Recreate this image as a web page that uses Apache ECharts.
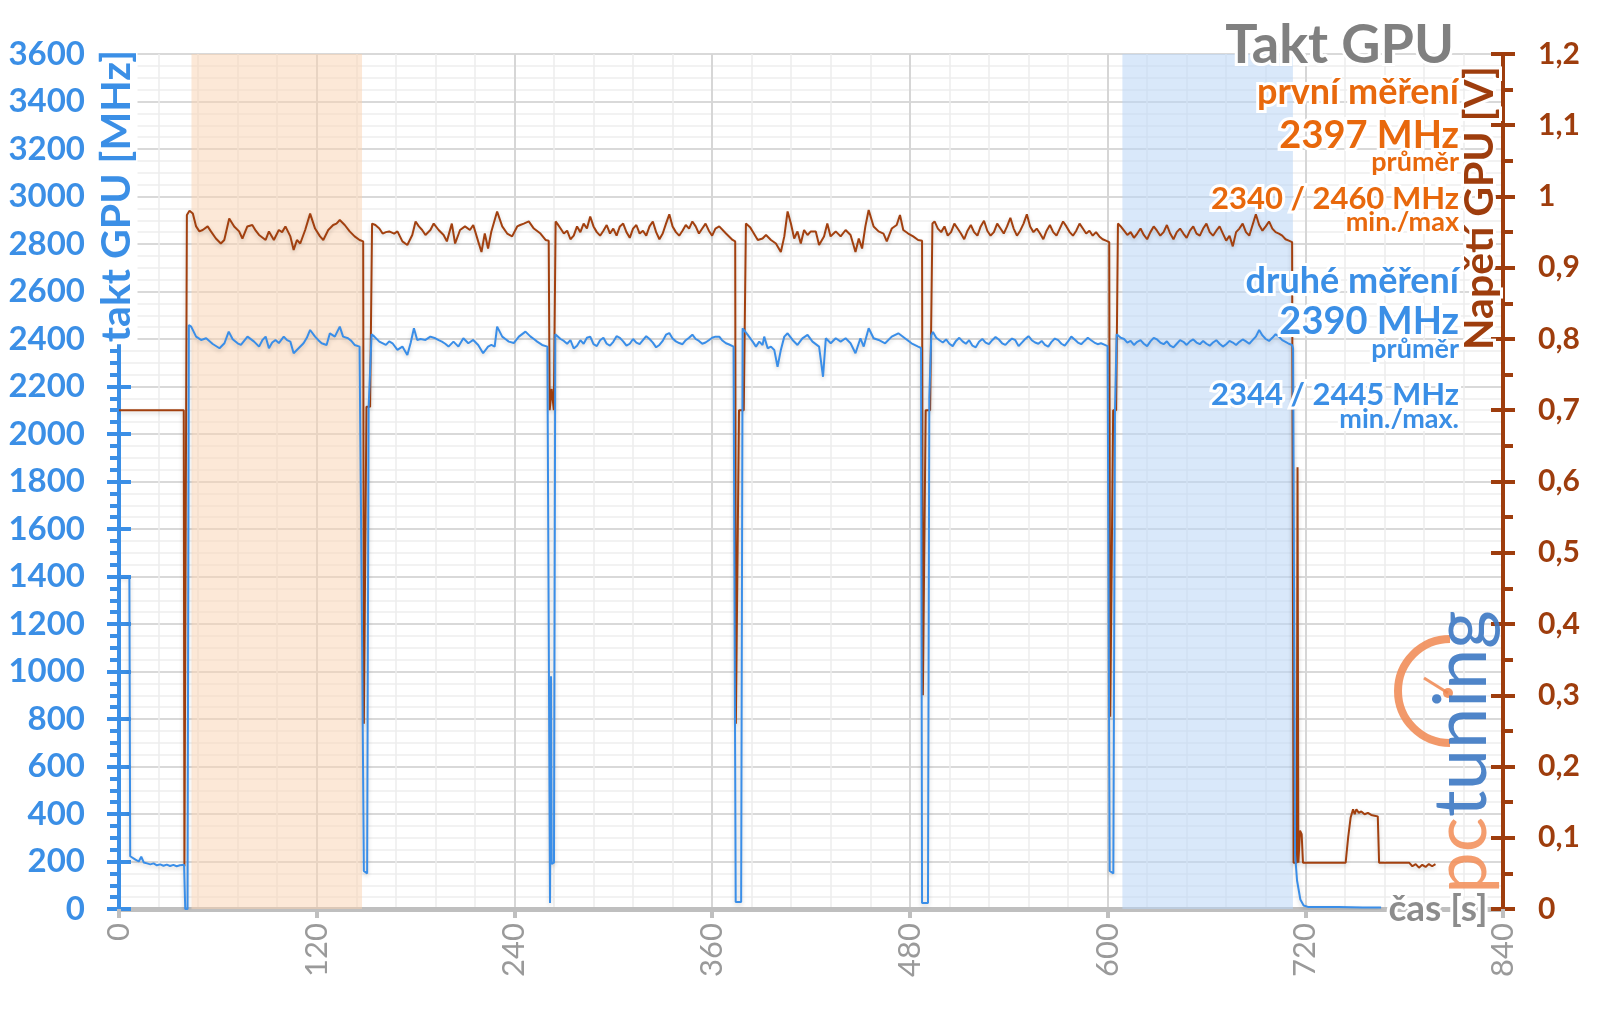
<!DOCTYPE html>
<html><head><meta charset="utf-8">
<script src="https://cdn.jsdelivr.net/npm/echarts@6/dist/echarts.min.js"></script>
<style>html,body{margin:0;padding:0;background:#fff}#c{width:1600px;height:1009px}</style>
</head><body><div id="c"></div>
<script>
// ---- tick labels ----
const xTicks = [0,120,240,360,480,600,720,840];
const leftMax = 3600, rightMax = 1.2;
// bands (s)
const bandOrange = [44, 147.5];
const bandBlue = [609, 712.5];

// ---- clock (MHz), [time s, value] ----
const clockStart = [[0,1400],[6.3,1400],[6.8,222],[8,218],[10,208],[12,200],[13.5,220],[15,196],[17,192],[19,188],[21,192],[23,184],[25,188],[27,182],[29,187],[31,181],[33,186],[35,180],[37,184],[39.5,186],[40.2,0],[41.6,0]];
const clockRun1 = [[42.4,2459],[43.8,2452],[46.8,2410],[49.8,2396],[52.9,2403],[56.9,2379],[61,2361],[64,2382],[66.6,2431],[69,2399],[72,2382],[74,2375],[78,2410],[82,2389],[85,2368],[87,2395],[89,2410],[91,2361],[93,2385],[95,2396],[97,2383],[100,2410],[102,2395],[104,2389],[106,2340],[109,2361],[112,2382],[114,2405],[116,2438],[119,2410],[121,2395],[123,2382],[126,2375],[128,2424],[131,2410],[134,2452],[136,2410],[139,2403],[141,2392],[143,2375],[146,2368]];
const clockGap1 = [[147,2360],[147.5,1170],[148,1165],[148.6,160],[150.6,150],[151.5,2110],[152.2,2115],[153.3,2420]];
const clockRun2 = [[155,2410],[158,2389],[162,2375],[164,2390],[166,2382],[169,2354],[172,2368],[175,2333],[177,2383],[179,2445],[181,2396],[183,2400],[186,2396],[189,2410],[192,2403],[194,2395],[196,2389],[198,2380],[200,2368],[203,2389],[206,2368],[209,2403],[212,2382],[215,2396],[218,2375],[221,2340],[224,2368],[226,2375],[228,2368],[229.5,2452],[232.6,2410],[234.5,2400],[236.6,2389],[239.6,2383],[242.7,2410],[246.7,2431],[249.8,2410],[251.8,2400],[253.8,2389],[256.8,2375],[260,2368]];
const clockGap2 = [[261.2,2362],[261.6,25],[262.2,980],[262.6,190],[264,195],[264.8,2420]];
const clockRun3 = [[266,2425],[268,2400],[270,2392],[272,2380],[274,2395],[276,2360],[278,2372],[280,2395],[282,2380],[284,2405],[286,2410],[288,2378],[290,2370],[292,2395],[294,2405],[296,2380],[298,2372],[300,2388],[302,2412],[304,2405],[306,2390],[308,2372],[310,2380],[312,2400],[314,2385],[316,2378],[318,2395],[320,2412],[322,2400],[324,2385],[326,2365],[328,2375],[330,2392],[332,2418],[334,2425],[336,2402],[338,2390],[340,2383],[342,2378],[344,2395],[346,2405],[348,2418],[350,2400],[352,2392],[354,2380],[356,2385],[358,2395],[360,2405],[362,2410],[364.3,2410],[366,2395],[368.4,2382],[370,2378],[373,2368]];
const clockGap3 = [[373.8,2360],[374.3,30],[377.6,30],[378.5,2445]];
const clockRun4 = [[381.6,2417],[384.6,2389],[386.6,2368],[388.6,2389],[390.6,2375],[391.6,2410],[393.7,2361],[395.7,2368],[397.7,2354],[399.7,2283],[401.7,2354],[403.8,2410],[405.8,2424],[408.8,2396],[411.8,2375],[414.8,2403],[417.9,2417],[420.9,2389],[424.9,2368],[427.3,2241],[429,2403],[432,2382],[435,2403],[438,2389],[441,2403],[444,2382],[447,2340],[450,2403],[452,2368],[455,2445],[458,2403],[461,2396],[465,2382],[469,2410],[473,2424],[477,2403],[481,2382],[485,2368]];
const clockGap4 = [[486.8,2362],[487.4,25],[491,25],[491.8,2150],[493,2415]];
const clockRun5 = [[494,2430],[496,2405],[498,2395],[500,2385],[502,2398],[504,2380],[506,2370],[508,2392],[510,2405],[512,2390],[514,2380],[516,2395],[518,2372],[520,2365],[522,2388],[524,2400],[526,2385],[528,2378],[530,2395],[532,2408],[534,2398],[536,2382],[538,2375],[540,2390],[542,2402],[544,2395],[546,2370],[548,2385],[550,2400],[552,2412],[554,2395],[556,2385],[558,2380],[560,2392],[562,2375],[564,2368],[566,2388],[568,2402],[570,2395],[572,2380],[574,2372],[576,2390],[578,2410],[580,2398],[582,2385],[584,2378],[586,2392],[588,2405],[590,2395],[592,2385],[594,2378],[596,2382],[598,2376],[600,2370]];
const clockGap5 = [[600.8,2362],[601.3,160],[603.5,150],[604.5,2100],[605.5,2420]];
const clockRun6 = [[606.5,2425],[608,2405],[610,2400],[612,2385],[614,2392],[616,2375],[618,2388],[620,2395],[622,2380],[624,2370],[626,2390],[628,2405],[630,2398],[632,2385],[634,2378],[636,2390],[638,2372],[640,2365],[642,2380],[644,2395],[646,2388],[648,2375],[650,2390],[652,2398],[654,2385],[656,2378],[658,2392],[660,2380],[662,2372],[664,2385],[666,2395],[668,2380],[670,2368],[672,2378],[674,2392],[676,2385],[678,2375],[680,2388],[682,2398],[684,2390],[686,2380],[688,2395],[690,2410],[692,2438],[694,2415],[696,2400],[698,2392],[700,2405],[702,2420],[704,2410],[706,2395],[708,2388],[710,2380],[712,2375]];
const clockEnd = [[712.6,2360],[713.2,1300],[713.8,230],[715,120],[717,40],[719,15],[722,8],[740,8],[755,6],[766,6]];

// ---- voltage (V), [time s, value] ----
const voltStart = [[0,0.70],[39.3,0.70],[39.7,0.06],[40.6,0.06],[41.2,0.974],[42.8,0.98]];
const voltRun1 = [[44.8,0.976],[46.8,0.958],[48.8,0.951],[50.8,0.953],[53.8,0.958],[55.8,0.951],[58.8,0.941],[61.8,0.934],[63.9,0.939],[66.9,0.969],[69.9,0.958],[72.9,0.951],[74.9,0.941],[77.9,0.958],[80.9,0.960],[83,0.952],[85,0.946],[89,0.939],[91,0.951],[94,0.939],[97,0.953],[99,0.950],[101,0.958],[104,0.944],[106,0.925],[108,0.939],[110,0.934],[113,0.953],[116,0.976],[119,0.955],[122,0.944],[124,0.939],[127,0.953],[130,0.960],[132,0.962],[134,0.967],[137,0.960],[140,0.951],[143,0.944],[146,0.939],[148.2,0.937]];
const voltGap1 = [[148.6,0.26],[149.5,0.26],[150.2,0.705],[152.4,0.705],[153.6,0.962]];
const voltRun2 = [[155.6,0.960],[158,0.955],[160,0.948],[162,0.950],[164,0.951],[167,0.948],[169,0.951],[172,0.937],[175,0.932],[178,0.946],[180,0.965],[182,0.958],[184,0.953],[186,0.946],[189,0.953],[191,0.962],[194,0.953],[197,0.946],[199,0.937],[202,0.962],[204,0.934],[207,0.953],[210,0.958],[213,0.953],[215,0.960],[218,0.937],[220,0.922],[222,0.948],[224,0.927],[226,0.951],[229.5,0.979],[232.6,0.958],[235.6,0.948],[238.6,0.944],[241.7,0.958],[243.5,0.960],[245.7,0.962],[248.7,0.965],[251.8,0.955],[255.8,0.948],[258.9,0.939],[260.8,0.938]];
const voltGap2 = [[261.4,0.70],[262.3,0.70],[262.6,0.73],[263.6,0.73],[263.9,0.70],[264.4,0.70],[265,0.965]];
const voltRun3 = [[266,0.962],[268,0.955],[270,0.948],[272,0.952],[274,0.940],[276,0.945],[278,0.958],[280,0.950],[282,0.962],[284,0.955],[286,0.972],[288,0.958],[290,0.950],[292,0.945],[294,0.952],[296,0.960],[298,0.948],[300,0.955],[302,0.945],[304,0.958],[306,0.962],[308,0.950],[310,0.942],[312,0.955],[314,0.960],[316,0.948],[318,0.952],[320,0.945],[322,0.958],[324,0.965],[326,0.950],[328,0.940],[330,0.948],[332,0.962],[334,0.975],[336,0.958],[338,0.950],[340,0.945],[342,0.952],[344,0.960],[346,0.955],[348,0.965],[350,0.958],[352,0.948],[354,0.955],[356,0.962],[358,0.952],[360,0.945],[362,0.955],[364.3,0.958],[368.4,0.948],[372.4,0.939],[374,0.937]];
const voltGap3 = [[374.4,0.26],[375.6,0.26],[376.3,0.70],[379.2,0.70],[380.5,0.962]];
const voltRun4 = [[383,0.957],[384.6,0.951],[387.7,0.939],[390.6,0.941],[392.7,0.946],[395.7,0.939],[398.7,0.934],[401.7,0.922],[403.8,0.944],[405.8,0.979],[407.8,0.962],[409.8,0.941],[411.8,0.951],[413.8,0.934],[415.8,0.953],[417.9,0.946],[419.9,0.951],[422.9,0.951],[424.9,0.932],[427.9,0.944],[429.9,0.962],[431.9,0.944],[435,0.951],[438,0.944],[441,0.953],[444,0.946],[447,0.922],[449,0.941],[451,0.927],[453,0.958],[455,0.981],[458,0.958],[461,0.951],[464,0.948],[466,0.937],[469,0.955],[472,0.960],[474,0.974],[476,0.953],[479,0.948],[482,0.944],[485,0.939],[487.4,0.938]];
const voltGap4 = [[487.9,0.30],[489,0.30],[489.6,0.70],[492.3,0.70],[493.7,0.962]];
const voltRun5 = [[495,0.965],[497,0.955],[499,0.950],[501,0.958],[503,0.945],[505,0.950],[507,0.962],[509,0.955],[511,0.948],[513,0.940],[515,0.952],[517,0.960],[519,0.950],[521,0.945],[523,0.958],[525,0.966],[527,0.952],[529,0.945],[531,0.950],[533,0.962],[535,0.955],[537,0.948],[539,0.958],[541,0.970],[543,0.955],[545,0.945],[547,0.952],[549,0.962],[551,0.975],[553,0.958],[555,0.950],[557,0.955],[559,0.948],[561,0.940],[563,0.952],[565,0.960],[567,0.950],[569,0.945],[571,0.955],[573,0.965],[575,0.958],[577,0.950],[579,0.945],[581,0.952],[583,0.962],[585,0.955],[587,0.948],[589,0.952],[591,0.945],[593,0.950],[595,0.944],[597,0.940],[599,0.938],[601,0.936]];
const voltGap5 = [[601.6,0.27],[602.8,0.27],[603.4,0.70],[605.2,0.70],[606.3,0.962]];
const voltRun6 = [[608,0.958],[610,0.952],[612,0.946],[614,0.950],[616,0.942],[618,0.948],[620,0.955],[622,0.946],[624,0.940],[626,0.950],[628,0.958],[630,0.952],[632,0.945],[634,0.950],[636,0.960],[638,0.948],[640,0.940],[642,0.950],[644,0.955],[646,0.948],[648,0.942],[650,0.952],[652,0.958],[654,0.948],[656,0.945],[658,0.955],[660,0.962],[662,0.950],[664,0.945],[666,0.952],[668,0.958],[670,0.948],[672,0.938],[674,0.945],[676,0.930],[678,0.950],[680,0.955],[682,0.962],[684,0.950],[686,0.945],[688,0.960],[690,0.975],[692,0.960],[694,0.952],[696,0.958],[698,0.965],[700,0.955],[702,0.950],[704,0.948],[706,0.945],[708,0.940],[710,0.938],[712,0.936]];
const voltEnd = [[712.4,0.935],[712.9,0.065],[714.8,0.065],[715.3,0.62],[715.8,0.065],[716.8,0.11],[717.8,0.105],[718.6,0.065],[744.5,0.065],[746,0.10],[747.5,0.128],[749,0.14],[750,0.133],[751,0.14],[752.5,0.135],[754,0.137],[756,0.133],[758,0.135],[760,0.132],[762,0.131],[764,0.13],[764.8,0.065],[783,0.065],[785,0.06],[787,0.063],[789,0.058],[791,0.062],[793,0.059],[795,0.063],[797,0.06],[799,0.063]];

const clockData = [].concat(clockStart, clockRun1, clockGap1, clockRun2, clockGap2, clockRun3, clockGap3, clockRun4, clockGap4, clockRun5, clockGap5, clockRun6, clockEnd);
const voltData = [].concat(voltStart, voltRun1, voltGap1, voltRun2, voltGap2, voltRun3, voltGap3, voltRun4, voltGap4, voltRun5, voltGap5, voltRun6, voltEnd);

const BLUE = '#3b8fe6', BROWN = '#9e3d0d', ORANGE = '#e8680c', GRAY = '#808080';
const FONT = 'Lato';

const chart = echarts.init(document.getElementById('c'), null, {renderer:'canvas'});
const halo = {stroke:'#fff', lineWidth:6};
function txt(x, y, text, size, color, align, extra) {
  return Object.assign({type:'text', x:x, y:y, z:100, style:Object.assign({text:text, font:'bold '+size+'px '+FONT, fill:color, align:align||'right', verticalAlign:'middle'}, halo)}, extra||{});
}
chart.setOption({
  animation:false,
  backgroundColor:'#fff',
  grid:{left:119, right:97, top:54, bottom:100},
  xAxis:{type:'value', min:0, max:840, interval:120,
    axisLine:{lineStyle:{color:'#bfbfbf', width:5}},
    axisTick:{length:9, lineStyle:{color:'#bfbfbf', width:4}},
    axisLabel:{rotate:90, color:'#9a9a9a', fontSize:31, fontFamily:FONT, margin:14,
      formatter:v=>xTicks.indexOf(v)>=0?String(v):''},
    splitLine:{show:true, lineStyle:{color:'#d6d6d6', width:2}},
    minorTick:{show:false, splitNumber:5},
    minorSplitLine:{show:true, lineStyle:{color:'#ededed', width:1.5}}
  },
  yAxis:[
    {type:'value', position:'left', min:0, max:leftMax, interval:200,
      axisLine:{show:true, lineStyle:{color:BLUE, width:4}},
      axisTick:{show:true, length:12, lineStyle:{color:BLUE, width:4}},
      minorTick:{show:true, splitNumber:4, length:9, lineStyle:{color:BLUE, width:4}},
      axisLabel:{color:BLUE, fontSize:33, fontWeight:'bold', fontFamily:FONT, margin:34, formatter:v=>String(v)},
      splitLine:{show:true, lineStyle:{color:'#d9d9d9', width:2}},
      minorSplitLine:{show:true, lineStyle:{color:'#eeeeee', width:1.5}}
    },
    {type:'value', position:'right', min:0, max:rightMax, interval:0.1,
      axisLine:{show:true, lineStyle:{color:BROWN, width:4}},
      axisTick:{show:true, length:12, lineStyle:{color:BROWN, width:4}},
      minorTick:{show:true, splitNumber:2, length:10, lineStyle:{color:BROWN, width:4}},
      axisLabel:{color:BROWN, fontSize:30, fontWeight:'bold', fontFamily:FONT, margin:35,
        formatter:v=>{const r=Math.round(v*10)/10; return r===0?'0':String(r).replace('.',',');}},
      splitLine:{show:false}
    },
    {type:'value', position:'left', min:0, max:leftMax, interval:200,
      axisLine:{show:false}, axisLabel:{show:false}, splitLine:{show:false},
      axisTick:{show:true, inside:true, length:12, lineStyle:{color:BLUE, width:4}}
    },
    {type:'value', position:'right', min:0, max:rightMax, interval:0.1,
      axisLine:{show:false}, axisLabel:{show:false}, splitLine:{show:false},
      axisTick:{show:true, inside:true, length:12, lineStyle:{color:BROWN, width:4}}
    }
  ],
  series:[
    {type:'line', name:'bands', yAxisIndex:0, data:[], z:1, silent:true,
      markArea:{silent:true, data:[
        [{xAxis:bandOrange[0], itemStyle:{color:'rgba(250,210,175,0.5)'}},{xAxis:bandOrange[1]}],
        [{xAxis:bandBlue[0], itemStyle:{color:'rgba(185,213,245,0.55)'}},{xAxis:bandBlue[1]}]
      ]}
    },
    {type:'line', name:'Napětí GPU', yAxisIndex:1, data:voltData, showSymbol:false, symbol:'none', z:3,
      lineStyle:{color:'#a2400f', width:2, shadowColor:'rgba(0,0,0,0.18)', shadowBlur:4, shadowOffsetY:2}},
    {type:'line', name:'takt GPU', yAxisIndex:0, data:clockData, showSymbol:false, symbol:'none', z:4,
      lineStyle:{color:'#3a8ee8', width:2, shadowColor:'rgba(0,0,0,0.18)', shadowBlur:4, shadowOffsetY:2}}
  ],
  graphic:[
    // axis names
    {type:'text', x:117, y:196, rotation:Math.PI/2, z:100,
      style:{text:'takt GPU [MHz]', font:'bold 41px '+FONT, fill:BLUE, align:'center', verticalAlign:'middle',
        backgroundColor:'#fff', padding:[0,2,0,2]}},
    // title & annotations
    txt(1454, 46, 'Takt GPU', 54, GRAY),
    txt(1459, 92, 'první měření', 36, ORANGE),
    txt(1459, 136, '2397 MHz', 38, ORANGE),
    txt(1459, 162, 'průměr', 27, ORANGE),
    txt(1459, 199, '2340 / 2460 MHz', 31, ORANGE),
    txt(1459, 222, 'min./max', 27, ORANGE),
    txt(1459, 281, 'druhé měření', 36, BLUE),
    txt(1459, 322, '2390 MHz', 38, BLUE),
    txt(1459, 349, 'průměr', 27, BLUE),
    txt(1459, 395, '2344 / 2445 MHz', 31, BLUE),
    txt(1459, 419, 'min./max.', 27, BLUE),
    {type:'text', x:1480, y:208, rotation:Math.PI/2, z:110,
      style:{text:'Napětí GPU [V]', font:'bold 41px '+FONT, fill:BROWN, align:'center', verticalAlign:'middle', stroke:'#fff', lineWidth:6}},
    {type:'text', x:1438, y:909, z:100,
      style:{text:'čas [s]', font:'bold 37px '+FONT, fill:'#8c8c8c', align:'center', verticalAlign:'middle', stroke:'#fff', lineWidth:6}},
    // watermark logo
    {type:'arc', z:90, shape:{cx:1450, cy:691, r:52, startAngle:Math.PI/2, endAngle:Math.PI*1.5, clockwise:true},
      style:{stroke:'rgba(240,135,80,0.85)', lineWidth:8, fill:null}},
    {type:'line', z:90, shape:{x1:1424, y1:678, x2:1448, y2:693}, style:{stroke:'rgba(240,135,80,0.85)', lineWidth:3}},
    {type:'circle', z:90, shape:{cx:1448, cy:693, r:5}, style:{fill:'rgba(240,135,80,0.85)'}},
    {type:'text', x:1462, y:752, rotation:Math.PI/2, z:91,
      style:{text:'{a|pc}{b|tuning}', align:'center', verticalAlign:'middle',
        rich:{a:{fill:'rgba(242,140,85,0.85)', fontSize:74, fontWeight:'normal', fontFamily:FONT},
              b:{fill:'rgba(60,120,195,0.9)', fontSize:74, fontWeight:'normal', fontFamily:FONT}}}}
  ]
});
</script>
</body></html>
